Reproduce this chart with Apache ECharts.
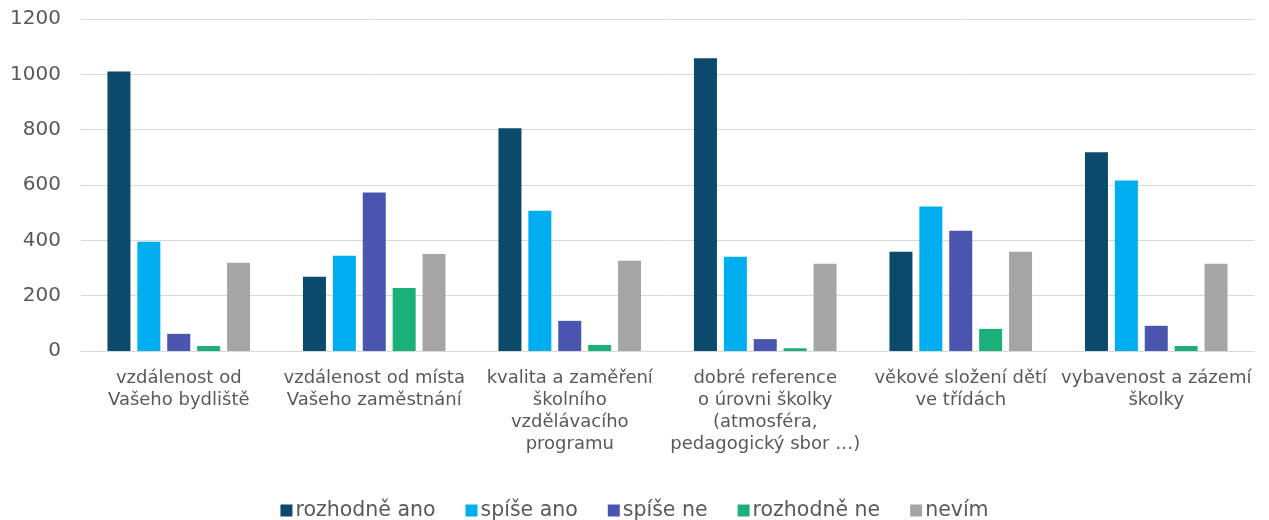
<!DOCTYPE html>
<html>
<head>
<meta charset="utf-8">
<script src="https://cdn.jsdelivr.net/npm/echarts@6/dist/echarts.min.js"></script>
<style>
  html, body { margin: 0; padding: 0; background: #fff; }
  #chart { width: 1269px; height: 520px; }
</style>
</head>
<body>
<div id="chart"></div>
<script>
const categories = [
  'vzdálenost od\nVašeho bydliště',
  'vzdálenost od místa\nVašeho zaměstnání',
  'kvalita a zaměření\nškolního\nvzdělávacího\nprogramu',
  'dobré reference\no úrovni školky\n(atmosféra,\npedagogický sbor …)',
  'věkové složení dětí\nve třídách',
  'vybavenost a zázemí\nškolky'
]
const seriesNames = ['rozhodně ano', 'spíše ano', 'spíše ne', 'rozhodně ne', 'nevím']
const rozhodneAno = [1010, 268, 805, 1058, 359, 718]
const spiseAno = [395, 344, 507, 341, 522, 616]
const spiseNe = [62, 573, 109, 43, 435, 91]
const rozhodneNe = [18, 228, 22, 10, 80, 18]
const nevim = [319, 351, 326, 315, 359, 315]
const colors = ['#0b4a6b', '#00aeef', '#4a55b0', '#1bb07a', '#a5a5a5']

const values = [rozhodneAno, spiseAno, spiseNe, rozhodneNe, nevim]
const font = '"DejaVu Sans", sans-serif'

const chart = echarts.init(document.getElementById('chart'))
chart.setOption({
  animation: false,
  color: colors,
  grid: { left: 81, right: 15, top: 19, bottom: 169, containLabel: false },
  legend: {
    top: 495,
    left: 'center',
    itemWidth: 12,
    itemHeight: 12,
    itemGap: 30,
    icon: 'rect',
    textStyle: { fontFamily: font, fontSize: 20.5, color: '#595959', padding: [0, 0, 0, -2] },
    data: seriesNames
  },
  xAxis: {
    type: 'category',
    data: categories,
    axisLine: { lineStyle: { color: '#d9d9d9' } },
    axisTick: { show: false },
    axisLabel: {
      interval: 0,
      margin: 16,
      fontFamily: font,
      fontSize: 18,
      lineHeight: 22,
      color: '#595959',
      align: 'center'
    }
  },
  yAxis: {
    type: 'value',
    min: 0,
    max: 1200,
    interval: 200,
    axisLine: { show: false },
    axisTick: { show: false },
    splitLine: { lineStyle: { color: '#d9d9d9' } },
    axisLabel: {
      fontFamily: font,
      fontSize: 20,
      color: '#595959',
      margin: 20,
      formatter: (v) => String(v)
    }
  },
  series: seriesNames.map((name, i) => ({
    name,
    type: 'bar',
    data: values[i],
    barWidth: 23,
    barGap: '30%',
    itemStyle: { color: colors[i] }
  }))
})
</script>
</body>
</html>
